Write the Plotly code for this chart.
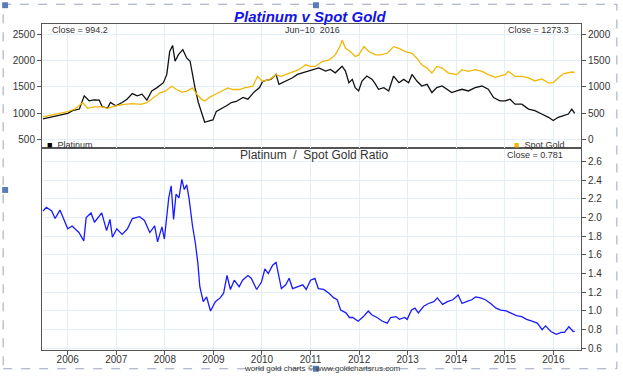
import plotly.graph_objects as go

# ---------------- data (decimal years) ----------------
pt_years = [2005.49, 2005.66, 2005.86, 2006.00, 2006.10, 2006.24, 2006.34, 2006.44, 2006.54, 2006.65,
            2006.71, 2006.82, 2006.88, 2006.99, 2007.12, 2007.22, 2007.33, 2007.43, 2007.53, 2007.63,
            2007.73, 2007.84, 2007.97, 2008.04, 2008.10, 2008.16, 2008.21, 2008.28, 2008.37, 2008.45,
            2008.52, 2008.57, 2008.62, 2008.69, 2008.76, 2008.82, 2008.93, 2008.99, 2009.06, 2009.16,
            2009.27, 2009.37, 2009.47, 2009.61, 2009.71, 2009.84, 2009.95, 2010.01, 2010.08, 2010.18,
            2010.29, 2010.35, 2010.49, 2010.63, 2010.73, 2010.83, 2010.97, 2011.07, 2011.17, 2011.31,
            2011.41, 2011.51, 2011.62, 2011.65, 2011.72, 2011.79, 2011.86, 2011.92, 2011.99, 2012.06,
            2012.16, 2012.27, 2012.34, 2012.40, 2012.51, 2012.61, 2012.71, 2012.82, 2012.92, 2013.02,
            2013.09, 2013.19, 2013.29, 2013.40, 2013.50, 2013.60, 2013.71, 2013.81, 2013.91, 2014.01,
            2014.12, 2014.25, 2014.39, 2014.53, 2014.66, 2014.77, 2014.90, 2015.01, 2015.11, 2015.21,
            2015.35, 2015.49, 2015.62, 2015.76, 2015.90, 2016.00, 2016.10, 2016.21, 2016.31, 2016.38,
            2016.44]
platinum = [887, 918, 962, 994, 1044, 1075, 1326, 1232, 1251, 1245,
            1119, 1094, 1200, 1138, 1200, 1263, 1370, 1326, 1358, 1245,
            1420, 1483, 1577, 1734, 2173, 2286, 1985, 2110, 2205, 2048,
            1985, 1703, 1483, 1200, 981, 824, 856, 868, 1031, 1075,
            1138, 1200, 1220, 1295, 1263, 1401, 1483, 1596, 1621, 1640,
            1734, 1546, 1608, 1671, 1734, 1765, 1797, 1828, 1859, 1797,
            1828, 1765, 1859, 1891, 1797, 1577, 1640, 1483, 1420, 1608,
            1703, 1640, 1546, 1452, 1483, 1420, 1703, 1577, 1640, 1577,
            1734, 1608, 1514, 1546, 1389, 1483, 1514, 1452, 1389, 1420,
            1452, 1420, 1483, 1514, 1452, 1295, 1232, 1232, 1263, 1169,
            1169, 1075, 1044, 981, 918, 856, 918, 950, 981, 1075,
            994]

au_years = [2005.49, 2005.73, 2006.00, 2006.14, 2006.31, 2006.41, 2006.54, 2006.71, 2006.82, 2006.99,
            2007.16, 2007.33, 2007.50, 2007.63, 2007.77, 2007.90, 2008.01, 2008.14, 2008.24, 2008.35,
            2008.45, 2008.57, 2008.65, 2008.76, 2008.82, 2008.93, 2009.03, 2009.16, 2009.30, 2009.40,
            2009.54, 2009.64, 2009.81, 2009.91, 2010.01, 2010.15, 2010.29, 2010.39, 2010.52, 2010.66,
            2010.76, 2010.90, 2011.00, 2011.10, 2011.24, 2011.38, 2011.51, 2011.62, 2011.65, 2011.72,
            2011.82, 2011.92, 2011.99, 2012.10, 2012.20, 2012.34, 2012.44, 2012.58, 2012.71, 2012.82,
            2012.95, 2013.09, 2013.19, 2013.29, 2013.40, 2013.50, 2013.60, 2013.71, 2013.84, 2014.01,
            2014.12, 2014.25, 2014.39, 2014.53, 2014.66, 2014.80, 2014.90, 2015.01, 2015.07, 2015.21,
            2015.35, 2015.49, 2015.62, 2015.76, 2015.90, 2016.00, 2016.10, 2016.21, 2016.38, 2016.44]
gold = [427, 477, 527, 571, 696, 590, 615, 615, 590, 634,
        665, 677, 665, 696, 803, 885, 916, 1010, 947, 897,
        916, 979, 866, 759, 728, 803, 853, 916, 979, 947,
        947, 979, 1010, 1198, 1104, 1135, 1230, 1198, 1242, 1292,
        1324, 1418, 1386, 1386, 1480, 1512, 1606, 1794, 1888, 1731,
        1669, 1575, 1600, 1763, 1669, 1606, 1606, 1637, 1763, 1731,
        1669, 1637, 1543, 1418, 1355, 1261, 1386, 1355, 1261, 1230,
        1324, 1292, 1324, 1292, 1230, 1180, 1200, 1230, 1292, 1198,
        1198, 1167, 1110, 1150, 1075, 1080, 1167, 1250, 1280, 1273.3]

ratio_years = [2005.49, 2005.56, 2005.67, 2005.74, 2005.84, 2005.91, 2006.00, 2006.09, 2006.16, 2006.23,
               2006.33, 2006.38, 2006.48, 2006.55, 2006.70, 2006.80, 2006.87, 2006.92, 2007.01, 2007.12,
               2007.23, 2007.33, 2007.48, 2007.58, 2007.69, 2007.79, 2007.85, 2007.94, 2007.99, 2008.08,
               2008.13, 2008.18, 2008.23, 2008.29, 2008.35, 2008.40, 2008.45, 2008.50, 2008.57, 2008.63,
               2008.68, 2008.72, 2008.79, 2008.86, 2008.94, 2009.04, 2009.14, 2009.21, 2009.28, 2009.35,
               2009.43, 2009.53, 2009.60, 2009.71, 2009.78, 2009.89, 2009.99, 2010.06, 2010.13, 2010.22,
               2010.29, 2010.35, 2010.40, 2010.49, 2010.56, 2010.63, 2010.74, 2010.84, 2010.91, 2011.00,
               2011.09, 2011.16, 2011.27, 2011.38, 2011.48, 2011.55, 2011.62, 2011.73, 2011.80, 2011.87,
               2011.98, 2012.09, 2012.19, 2012.26, 2012.37, 2012.48, 2012.58, 2012.65, 2012.76, 2012.83,
               2012.94, 2012.99, 2013.08, 2013.15, 2013.22, 2013.33, 2013.43, 2013.54, 2013.61, 2013.72,
               2013.82, 2013.93, 2014.04, 2014.12, 2014.21, 2014.32, 2014.40, 2014.50, 2014.60, 2014.71,
               2014.82, 2014.92, 2015.03, 2015.13, 2015.24, 2015.35, 2015.45, 2015.56, 2015.67, 2015.77,
               2015.84, 2015.95, 2016.06, 2016.16, 2016.23, 2016.32, 2016.41, 2016.44]
ratio = [2.07, 2.11, 2.07, 1.99, 2.08, 2.00, 1.88, 1.91, 1.88, 1.84,
         1.75, 2.00, 2.05, 1.95, 2.05, 1.86, 1.98, 1.79, 1.88, 1.82,
         1.88, 1.99, 2.01, 1.97, 1.84, 1.91, 1.74, 1.90, 1.77, 2.21,
         2.34, 1.98, 2.25, 2.21, 2.41, 2.30, 2.35, 2.20, 1.91, 1.72,
         1.51, 1.26, 1.10, 1.15, 1.00, 1.10, 1.14, 1.19, 1.38, 1.23,
         1.33, 1.26, 1.33, 1.38, 1.35, 1.23, 1.31, 1.45, 1.40, 1.49,
         1.52, 1.38, 1.24, 1.28, 1.35, 1.24, 1.26, 1.28, 1.23, 1.33,
         1.35, 1.24, 1.23, 1.19, 1.14, 1.12, 1.01, 0.98, 0.93, 0.93,
         0.89, 0.94, 1.00, 0.96, 0.93, 0.89, 0.87, 0.93, 0.94, 0.91,
         0.93, 0.91, 1.01, 1.03, 0.98, 1.05, 1.08, 1.10, 1.14, 1.07,
         1.10, 1.12, 1.17, 1.08, 1.10, 1.12, 1.15, 1.14, 1.12, 1.08,
         1.03, 1.01, 1.00, 0.98, 0.95, 0.94, 0.91, 0.89, 0.87, 0.80,
         0.84, 0.78, 0.75, 0.77, 0.77, 0.83, 0.78, 0.781]

year_ticks = list(range(2006, 2017))
year_labels = [str(y) for y in year_ticks]
pt_ticks = [500, 1000, 1500, 2000, 2500]
au_ticks = [0, 500, 1000, 1500, 2000]
ratio_ticks = [0.6, 0.8, 1.0, 1.2, 1.4, 1.6, 1.8, 2.0, 2.2, 2.4, 2.6]

# ---------------- layout helpers (reference pixel space) ----------------
RW, RH = 623, 377
L, R, T, B = 42, 40, 24, 23
PW, PH = RW - L - R, RH - T - B
split = 204 / PH  # bottom panel share
K = 1.0  # pixel scale


def px(x):
    return (x - L) / PW


def py(y):
    return (RH - B - y) / PH


FONT = "Arial, Liberation Sans, sans-serif"
AXC = "#555555"
GRID = "#e3eff6"
TXT = "#333333"

fig = go.Figure()
fig.add_trace(go.Scatter(x=pt_years, y=platinum, mode="lines", line=dict(color="#111111", width=1.3),
                         xaxis="x2", yaxis="y", name="Platinum", showlegend=False))
fig.add_trace(go.Scatter(x=au_years, y=gold, mode="lines", line=dict(color="#f2b705", width=1.3),
                         xaxis="x2", yaxis="y2", name="Spot Gold", showlegend=False))
fig.add_trace(go.Scatter(x=ratio_years, y=ratio, mode="lines", line=dict(color="#1a1aff", width=1.3),
                         xaxis="x", yaxis="y3", name="Ratio", showlegend=False))

xr = [2005.47, 2016.57]
common_x = dict(range=xr, showgrid=True, gridcolor=GRID, gridwidth=1, tickvals=year_ticks,
                ticktext=year_labels, showline=True, linecolor=AXC, linewidth=1, mirror=True,
                zeroline=False, tickfont=dict(family=FONT, size=10, color=TXT))

fig.update_layout(
    width=RW, height=RH, margin=dict(l=L, r=R, t=T, b=B),
    paper_bgcolor="white", plot_bgcolor="white",
    xaxis=dict(common_x, domain=[0, 1], anchor="y3", ticks="outside", ticklen=4, tickcolor=AXC,
               ticklabelstandoff=-4),
    xaxis2=dict(common_x, domain=[0, 1], anchor="y", showticklabels=False, ticks=""),
    yaxis=dict(domain=[split, 1], range=[325, 2694], tickvals=pt_ticks, side="left",
               ticks="outside", ticklen=4, tickcolor=AXC, showgrid=True, gridcolor=GRID,
               showline=True, linecolor=AXC, mirror=True, zeroline=False,
               tickfont=dict(family=FONT, size=10, color=TXT)),
    yaxis2=dict(overlaying="y", anchor="x2", range=[-175, 2194], tickvals=au_ticks, side="right",
                ticks="outside", ticklen=4, tickcolor=AXC, showgrid=False, zeroline=False,
                showline=False, tickfont=dict(family=FONT, size=10, color=TXT)),
    yaxis3=dict(domain=[0, split], anchor="x", range=[0.582, 2.74], tickvals=ratio_ticks,
                tickformat=".1f", side="right", ticks="outside", ticklen=4, tickcolor=AXC,
                showgrid=True, gridcolor=GRID, showline=True, linecolor=AXC, mirror=True,
                zeroline=False, tickfont=dict(family=FONT, size=10, color=TXT)),
)

ann = [
    dict(text="<b><i>Platinum v Spot Gold</i></b>", x=px(311), y=py(16), font=dict(size=15, color="#1414e6")),
    dict(text="Close = 994.2", x=px(50), y=py(30), xanchor="left", font=dict(size=9, color=TXT)),
    dict(text="Jun\u221210  2016", x=px(314), y=py(30), font=dict(size=9, color=TXT)),
    dict(text="Close = 1273.3", x=px(573), y=py(30), xanchor="right", font=dict(size=9, color=TXT)),
    dict(text="<span style='color:#000000'>\u25A0</span>  Platinum", x=px(45), y=py(146), xanchor="left",
         font=dict(size=9, color=TXT)),
    dict(text="<span style='color:#f2b705'>\u25A0</span>  Spot Gold", x=px(568), y=py(146), xanchor="right",
         font=dict(size=9, color=TXT)),
    dict(text="Platinum  /  Spot Gold Ratio", x=px(315), y=py(157), font=dict(size=12, color=TXT)),
    dict(text="Close = 0.781", x=px(567), y=py(157), xanchor="right", font=dict(size=9, color=TXT)),
    dict(text="world gold charts \u00a9 www.goldchartsrus.com", x=px(324), y=py(373), font=dict(size=8, color=TXT)),
]
for a in ann:
    a.update(xref="paper", yref="paper", showarrow=False, yanchor=a.get("yanchor", "middle"))
    a["font"]["family"] = FONT
    fig.add_annotation(**a)

# dashed selection frame and handles around the picture
shapes = [dict(type="rect", xref="paper", yref="paper", x0=px(3), x1=px(619), y0=py(373), y1=py(4),
               line=dict(color="#9aa4b8", width=1, dash="dash"), layer="below")]
for hx, hy in [(5, 5), (317, 5), (5, 192), (317, 373)]:
    shapes.append(dict(type="rect", xref="paper", yref="paper", x0=px(hx - 3), x1=px(hx + 3),
                       y0=py(hy + 3), y1=py(hy - 3), fillcolor="#5a7bb5", line=dict(width=0)))
fig.update_layout(shapes=shapes)

post = ("document.documentElement.style.margin='0';document.documentElement.style.padding='0';"
        "document.documentElement.style.overflow='hidden';"
        "document.body.style.margin='0';document.body.style.padding='0';"
        "document.body.style.overflow='hidden';")
fig.write_html("out.html", config={"displayModeBar": False}, post_script=post)
